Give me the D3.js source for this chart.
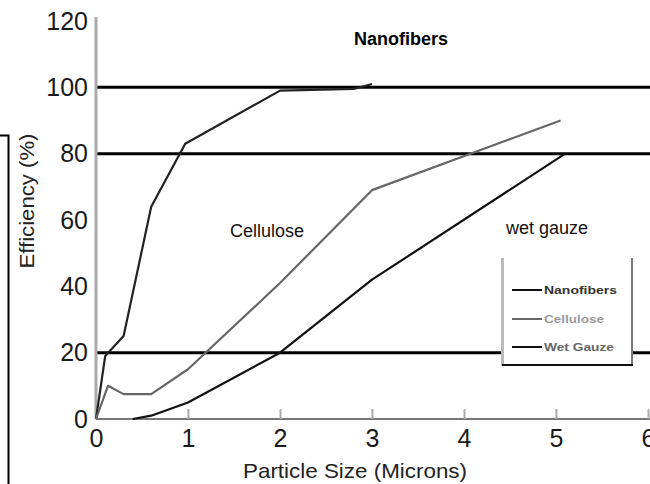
<!DOCTYPE html>
<html><head><meta charset="utf-8">
<script src="https://cdn.jsdelivr.net/npm/d3@7"></script>
<style>
html,body{margin:0;padding:0;background:#fff;}
svg{display:block;font-family:"Liberation Sans",Arial,Helvetica,sans-serif;}
</style></head>
<body>
<svg id="c" width="650" height="484"></svg>
<script>
// ---- data ----
const xTicks = [0, 1, 2, 3, 4, 5, 6];
const yTicks = [0, 20, 40, 60, 80, 100, 120];
const refLines = [20, 80, 100];
const nanofibersX = [0, 0.1, 0.3, 0.6, 0.97, 2.0, 2.8, 3.0];
const nanofibersY = [0, 19, 25, 64, 83, 99, 99.5, 101];
const celluloseX = [0, 0.13, 0.3, 0.6, 1.0, 2.0, 3.0, 5.05];
const celluloseY = [0, 10, 7.5, 7.5, 15, 41, 69, 90];
const gauzeX = [0.4, 0.6, 1.0, 2.0, 3.0, 5.1];
const gauzeY = [0, 1, 5, 20, 42, 80];
const seriesNames = ["Nanofibers", "Cellulose", "Wet Gauze"];
const title = "Nanofibers";
const xTitle = "Particle Size (Microns)";
const yTitle = "Efficiency (%)";

const svg = d3.select("#c");
const x = d3.scaleLinear().domain([0, 6]).range([96, 648]);
const y = d3.scaleLinear().domain([0, 120]).range([419, 21]);

// stray frame line at left
svg.append("path").attr("d", "M0,135.5H8.5V484").attr("fill", "none").attr("stroke", "#000").attr("stroke-width", 2);

// reference lines
svg.selectAll(".ref").data(refLines).enter().append("line")
  .attr("x1", x(0)).attr("x2", 650)
  .attr("y1", d => y(d)).attr("y2", d => y(d))
  .attr("stroke", "#000").attr("stroke-width", 3);

// x axis
const xAxis = svg.append("g").attr("transform", `translate(0,${y(0)})`)
  .call(d3.axisBottom(x).tickValues(xTicks).tickSize(0).tickPadding(10).tickFormat(d3.format("d")));
xAxis.select(".domain").attr("stroke", "#777").attr("stroke-width", 2).attr("d", `M${x(0)},0H650`);
xAxis.selectAll(".tick").filter(d => d > 0).append("line")
  .attr("y1", 0).attr("y2", -10).attr("stroke", "#aaa").attr("stroke-width", 2);
xAxis.selectAll("text").attr("font-size", 25).attr("fill", "#1a1a1a")
  .attr("font-family", "Liberation Sans, Arial, sans-serif").attr("dy", "0.72em");

// y axis
const yAxis = svg.append("g").attr("transform", `translate(${x(0)},0)`)
  .call(d3.axisLeft(y).tickValues(yTicks).tickSize(0).tickPadding(8).tickFormat(d3.format("d")));
yAxis.select(".domain").attr("stroke", "#aaa").attr("stroke-width", 3).attr("d", `M0,${y(120)-4}V${y(0)}`);
yAxis.selectAll("text").attr("font-size", 25).attr("fill", "#1a1a1a")
  .attr("font-family", "Liberation Sans, Arial, sans-serif");

// series
const line = d3.line().x(d => x(d[0])).y(d => y(d[1]));
const series = [
  {pts: d3.zip(nanofibersX, nanofibersY), color: "#222"},
  {pts: d3.zip(celluloseX, celluloseY), color: "#666"},
  {pts: d3.zip(gauzeX, gauzeY), color: "#111"}
];
svg.selectAll(".series").data(series).enter().append("path")
  .attr("d", d => line(d.pts)).attr("fill", "none")
  .attr("stroke", d => d.color).attr("stroke-width", 2.2).attr("stroke-linejoin", "round");

// redraw x axis baseline near origin (wet gauze lies on 0)
// annotations
svg.append("text").attr("x", 401).attr("y", 45).attr("text-anchor", "middle")
  .attr("font-size", 18).attr("font-weight", "bold").attr("fill", "#000").text(title);
svg.append("text").attr("x", 230).attr("y", 237).attr("font-size", 18).attr("fill", "#111").text(seriesNames[1]);
svg.append("text").attr("x", 506).attr("y", 234).attr("font-size", 18).attr("fill", "#111").text("wet gauze");

// axis titles
svg.append("text").attr("x", 355).attr("y", 478).attr("text-anchor", "middle")
  .attr("font-size", 21).attr("fill", "#222").attr("textLength", 224).attr("lengthAdjust", "spacingAndGlyphs").text(xTitle);
svg.append("text").attr("transform", "translate(34,201) rotate(-90)").attr("text-anchor", "middle")
  .attr("font-size", 21).attr("fill", "#222").attr("textLength", 135).attr("lengthAdjust", "spacingAndGlyphs").text(yTitle);

// legend
const lg = svg.append("g");
lg.append("rect").attr("x", 502).attr("y", 258).attr("width", 130).attr("height", 107).attr("fill", "#fff");
lg.append("line").attr("x1", 502.5).attr("x2", 502.5).attr("y1", 258).attr("y2", 366).attr("stroke", "#bbb").attr("stroke-width", 3);
lg.append("line").attr("x1", 632).attr("x2", 632).attr("y1", 258).attr("y2", 366).attr("stroke", "#777").attr("stroke-width", 2);
lg.append("line").attr("x1", 502).attr("x2", 633).attr("y1", 365).attr("y2", 365).attr("stroke", "#111").attr("stroke-width", 2);
const legColors = ["#111", "#666", "#111"];
const legText = ["#333", "#999", "#666"];
const legW = [73, 60, 70];
const legRows = [290, 319, 347];
seriesNames.forEach((n, i) => {
  lg.append("line").attr("x1", 512).attr("x2", 542).attr("y1", legRows[i]).attr("y2", legRows[i])
    .attr("stroke", legColors[i]).attr("stroke-width", 2);
  lg.append("text").attr("x", 544).attr("y", legRows[i] + 4).attr("font-size", 11).attr("font-weight", "bold")
    .attr("fill", legText[i]).attr("textLength", legW[i]).attr("lengthAdjust", "spacingAndGlyphs").text(n);
});
</script>
</body></html>
